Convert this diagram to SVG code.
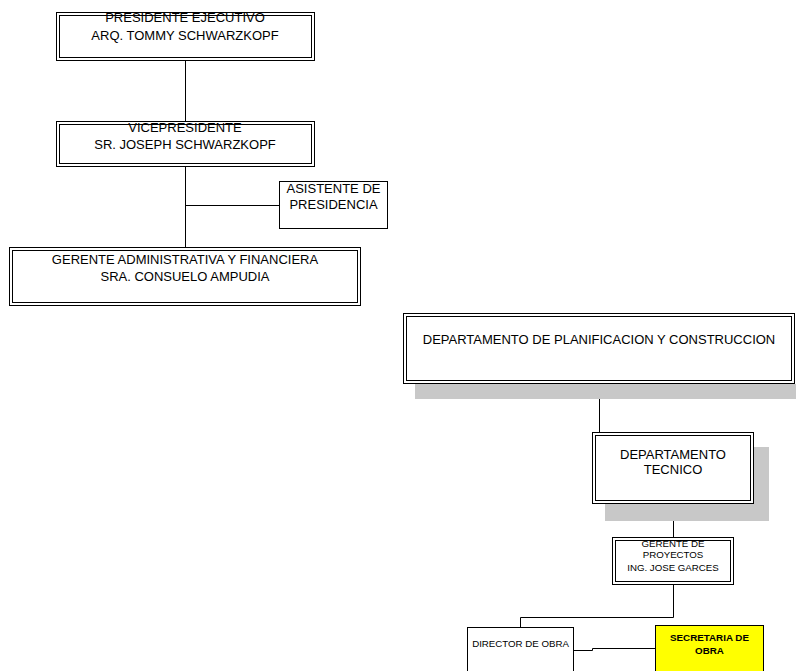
<svg xmlns="http://www.w3.org/2000/svg" width="796" height="671" viewBox="0 0 796 671">
  <style>
    .box { fill: #ffffff; stroke: #000000; stroke-width: 1; }
    .inner { fill: none; stroke: #000000; stroke-width: 1; }
    .shadow { fill: #c8c8c8; stroke: none; }
    .link { fill: none; stroke: #000000; stroke-width: 1; }
    .t { font-family: "Liberation Sans", Arial, sans-serif; font-size: 13px; fill: #000000; text-anchor: middle; }
    .s { font-family: "Liberation Sans", Arial, sans-serif; font-size: 9.7px; fill: #000000; text-anchor: middle; }
    .b { font-family: "Liberation Sans", Arial, sans-serif; font-size: 9.8px; font-weight: bold; fill: #000000; text-anchor: middle; }
  </style>
  <rect width="796" height="671" fill="#ffffff"/>

  <!-- connectors -->
  <g id="connectors">
    <path class="link" d="M185.5 61 V121"/>
    <path class="link" d="M185.5 167 V247"/>
    <path class="link" d="M185.5 205.5 H279"/>
    <path class="link" d="M599.5 384 V435.5 H673.5 V442"/>
    <path class="link" d="M673.5 504 V537"/>
    <path class="link" d="M673.5 585 V617.5 H520.5 V635"/>
    <path class="link" d="M574 650.5 H592.5 V648.5 H655"/>
  </g>

  <g id="presidente">
    <rect class="box" x="56.5" y="12.5" width="258" height="48"/>
    <rect class="inner" x="59.5" y="15.5" width="252" height="42"/>
    <text class="t" x="185" y="22">PRESIDENTE EJECUTIVO</text>
    <text class="t" x="185" y="40">ARQ. TOMMY SCHWARZKOPF</text>
  </g>

  <g id="vicepresidente">
    <rect class="box" x="56.5" y="121.5" width="258" height="45"/>
    <rect class="inner" x="59.5" y="124.5" width="252" height="39"/>
    <text class="t" x="185" y="132">VICEPRESIDENTE</text>
    <text class="t" x="185" y="149">SR. JOSEPH SCHWARZKOPF</text>
  </g>

  <g id="asistente">
    <rect class="box" x="279.5" y="181.5" width="108" height="47"/>
    <text class="t" x="333.5" y="193">ASISTENTE DE</text>
    <text class="t" x="333.5" y="209">PRESIDENCIA</text>
  </g>

  <g id="gerente-admin">
    <rect class="box" x="9.5" y="247.5" width="351" height="58"/>
    <rect class="inner" x="12.5" y="250.5" width="345" height="52"/>
    <text class="t" x="185" y="264">GERENTE ADMINISTRATIVA Y FINANCIERA</text>
    <text class="t" x="185" y="281">SRA. CONSUELO AMPUDIA</text>
  </g>

  <g id="depto-planificacion">
    <rect class="shadow" x="415" y="384" width="381" height="15"/>
    <rect class="box" x="403.5" y="313.5" width="391" height="70"/>
    <rect class="inner" x="406.5" y="316.5" width="385" height="64"/>
    <text class="t" x="599" y="344">DEPARTAMENTO DE PLANIFICACION Y CONSTRUCCION</text>
  </g>

  <g id="depto-tecnico">
    <rect class="shadow" x="605" y="447" width="164" height="74"/>
    <rect class="box" x="592.5" y="432.5" width="161" height="71"/>
    <rect class="inner" x="595.5" y="435.5" width="155" height="65"/>
    <text class="t" x="673" y="459">DEPARTAMENTO</text>
    <text class="t" x="673" y="474">TECNICO</text>
  </g>

  <g id="gerente-proyectos">
    <rect class="box" x="612.5" y="537.5" width="121" height="47"/>
    <rect class="inner" x="615.5" y="540.5" width="115" height="41"/>
    <text class="s" x="673" y="546.5">GERENTE DE</text>
    <text class="s" x="673" y="557.5">PROYECTOS</text>
    <text class="s" x="673" y="570.5">ING. JOSE GARCES</text>
  </g>

  <g id="director-obra">
    <rect class="box" x="467.5" y="627.5" width="106" height="60"/>
    <text class="s" x="520.5" y="646.5">DIRECTOR DE OBRA</text>
  </g>

  <g id="secretaria-obra">
    <rect class="box" x="655.5" y="625.5" width="108" height="60" style="fill:#ffff00"/>
    <text class="b" x="709.5" y="640.5">SECRETARIA DE</text>
    <text class="b" x="709.5" y="653.5">OBRA</text>
  </g>
</svg>
